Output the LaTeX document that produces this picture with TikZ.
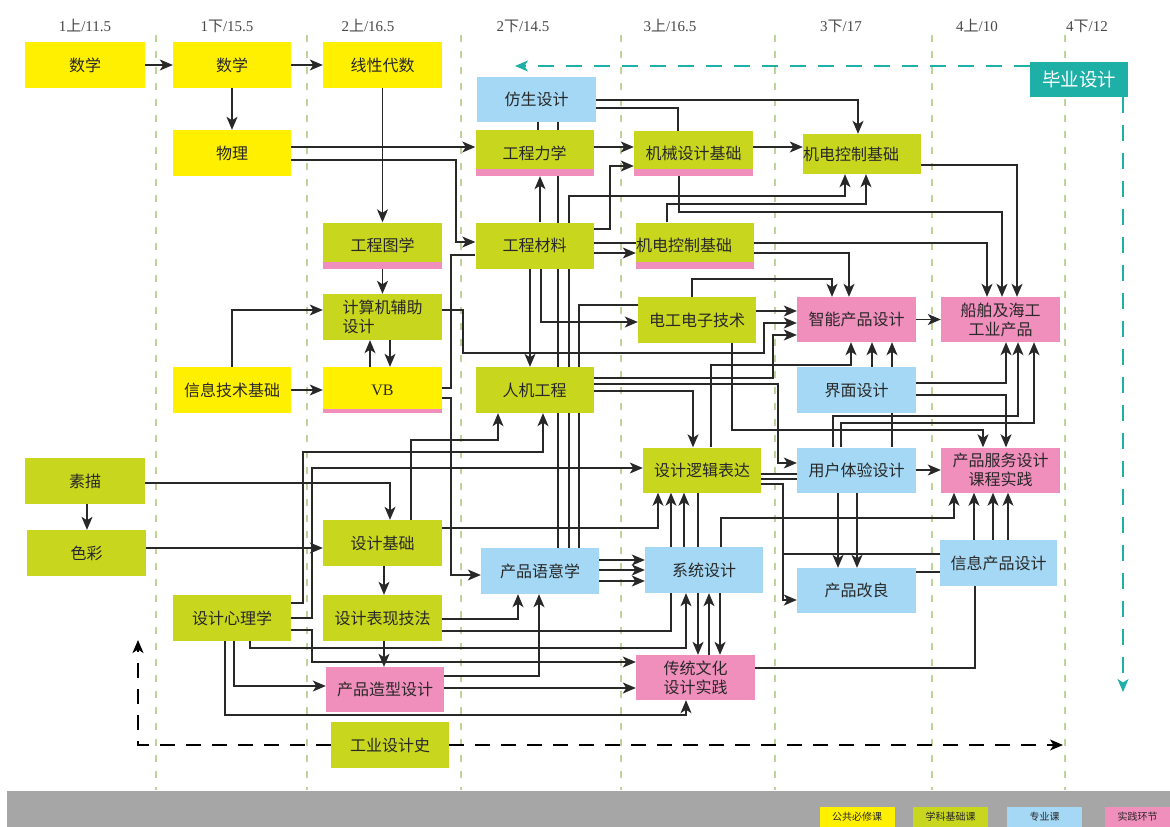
\documentclass[tikz,border=0pt]{standalone}
\usepackage{fontspec}
\setmainfont{Liberation Serif}
\newfontfamily\cjk{Noto Sans CJK SC}
\usetikzlibrary{arrows.meta,backgrounds}

\definecolor{gongbi}{RGB}{255,240,0}
\definecolor{xueke}{RGB}{200,214,30}
\definecolor{zhuanye}{RGB}{164,216,244}
\definecolor{shijian}{RGB}{240,142,188}
\definecolor{biye}{RGB}{30,176,166}
\definecolor{grid}{RGB}{190,212,150}
\definecolor{band}{RGB}{166,166,166}
\definecolor{ink}{RGB}{40,40,40}

\newcommand{\term}[3]{#1{\cjk #2}/#3}

\begin{document}
\begin{tikzpicture}[x=1pt, y=-1pt, >={Stealth[length=13pt,width=11pt,inset=3.5pt]},
  course/.style={fill=#1, text=ink, inner sep=0pt, minimum width=118pt,
    minimum height=46pt, align=center, font=\cjk\fontsize{16}{19}\selectfont},
  stripe/.style={path picture={\fill[shijian] (path picture bounding box.south west)
    rectangle ([yshift=#1]path picture bounding box.south east);}},
  stripe/.default=7pt,
  flush/.style={text width=118pt, align=left},
  link/.style={->, line width=1.3pt, draw=ink},
  tie/.style={line width=1.3pt, draw=ink},
  hop/.style={line width=1.4pt, dash pattern=on 15pt off 11pt},
  semester/.style={text=ink!85, font=\fontsize{15}{17}\selectfont},
  swatch/.style={fill=#1, text=ink, inner sep=0pt, minimum width=75pt,
    minimum height=20pt, font=\cjk\fontsize{10}{12}\selectfont}]

  \useasboundingbox (0,0) rectangle (1170,827);

  \foreach \x/\n/\c/\v [count=\i] in {85/1/上/11.5, 227/1/下/15.5, 368/2/上/16.5,
      523/2/下/14.5, 670/3/上/16.5, 841/3/下/17, 977/4/上/10, 1087/4/下/12}
    \node[semester] (hd\i) at (\x,26) {\term{\n}{\c}{\v}};

  \node[course=gongbi, minimum width=120pt] (sxA) at (85,65) {数学};
  \node[course=gongbi] (sxB) at (232,65) {数学};
  \node[course=gongbi, minimum width=119pt] (xxds) at (382.5,65) {线性代数};
  \node[course=zhuanye, minimum width=119pt, minimum height=45pt] (fssj) at (536.5,99.5) {仿生设计};
  \node[course=biye, text=white, minimum width=98pt, minimum height=35pt,
    font=\cjk\fontsize{18.5}{20}\selectfont] (bysj) at (1079,79.5) {毕业设计};

  \node[course=gongbi] (wl) at (232,153) {物理};
  \node[course=xueke, stripe] (gclx) at (534.5,153) {工程力学};
  \node[course=xueke, stripe, minimum width=119pt, minimum height=45pt] (jxsj) at (693.5,153.5) {机械设计基础};
  \node[course=xueke, flush, minimum height=40pt] (jdkzA) at (862,154) {机电控制基础};

  \node[course=xueke, stripe, minimum width=119pt] (gctx) at (382.5,245.5) {工程图学};
  \node[course=xueke] (gccl) at (534.5,245.5) {工程材料};
  \node[course=xueke, stripe, flush] (jdkzB) at (695,245.5) {机电控制基础};

  \node[course=xueke, minimum width=119pt, align=left] (jsj) at (382.5,317) {计算机辅助\\设计};
  \node[course=xueke] (dgdz) at (697,320) {电工电子技术};
  \node[course=shijian, minimum width=119pt, minimum height=45pt] (zncp) at (856.5,319.5) {智能产品设计};
  \node[course=shijian, minimum width=119pt, minimum height=45pt] (cbhg) at (1000.5,319.5) {船舶及海工\\工业产品};

  \node[course=gongbi] (xxjs) at (232,390) {信息技术基础};
  \node[course=gongbi, stripe=4pt, minimum width=119pt] (vb) at (382.5,390) {\rmfamily VB};
  \node[course=xueke] (rjgc) at (534.5,390) {人机工程};
  \node[course=zhuanye, minimum width=119pt] (jmsj) at (856.5,390) {界面设计};

  \node[course=xueke, minimum width=120pt] (sm) at (85,481) {素描};
  \node[course=xueke, minimum height=45pt] (sjlj) at (702,470) {设计逻辑表达};
  \node[course=zhuanye, minimum width=119pt, minimum height=45pt] (yhty) at (856.5,470) {用户体验设计};
  \node[course=shijian, minimum width=119pt, minimum height=45pt] (cpfw) at (1000.5,470) {产品服务设计\\课程实践};

  \node[course=xueke, minimum width=119pt] (sc) at (86.5,553) {色彩};
  \node[course=xueke, minimum width=119pt] (sjjc) at (382.5,543) {设计基础};
  \node[course=zhuanye] (cpyy) at (540,571) {产品语意学};
  \node[course=zhuanye] (xtsj) at (704,570) {系统设计};
  \node[course=zhuanye, minimum width=119pt, minimum height=45pt] (cpgl) at (856.5,590.5) {产品改良};
  \node[course=zhuanye, minimum width=117pt] (xxcp) at (998.5,563) {信息产品设计};

  \node[course=xueke] (sjxl) at (232,618) {设计心理学};
  \node[course=xueke, minimum width=119pt] (sjbx) at (382.5,618) {设计表现技法};
  \node[course=shijian, minimum height=45pt] (cpzx) at (385,689.5) {产品造型设计};
  \node[course=shijian, minimum width=119pt, minimum height=45pt] (ctwh) at (695.5,677.5) {传统文化\\设计实践};
  \node[course=xueke] (gysjs) at (390,745) {工业设计史};

  \coordinate (tA) at (515,66);
  \coordinate (tB) at (1123,692);
  \coordinate (hA) at (138,640);
  \coordinate (hB) at (1063,745);
  \coordinate (jA) at (783,554);

  \begin{scope}[on background layer]
    \fill[white] (0,0) rectangle (1170,827);
    \foreach \x in {156,307,461,621,775,932,1065}
      \draw[grid, line width=1.2pt, dash pattern=on 7pt off 9pt] (\x,35) -- (\x,790);

    \draw[biye, line width=1.5pt, dash pattern=on 16pt off 12pt, ->] (bysj.west |- 0,66) -- (tA);
    \draw[biye, line width=1.5pt, dash pattern=on 16pt off 12pt, ->] (bysj.south -| 1123,0) -- (tB);
    \draw[hop, ->] (gysjs.west) -| (hA);
    \draw[hop, ->] (gysjs.east) -- (hB);

    \draw[link] (sxA) -- (sxB);
    \draw[link] (sxB) -- (xxds);
    \draw[link] (sxB) -- (wl);
    \draw[link] (xxds) -- (gctx);
    \draw[link] (gctx) -- (jsj);
    \draw[link] (wl.east |- 0,147) -- (gclx.west |- 0,147);
    \draw[link] (wl.east |- 0,160) -| (456,242) -- (gccl.west |- 0,242);
    \draw[link] (xxjs.north) |- (jsj.west |- 0,310);
    \draw[link] (xxjs) -- (vb);
    \draw[link] (vb.north -| 370,0) -- (jsj.south -| 370,0);
    \draw[link] (jsj.south -| 390,0) -- (vb.north -| 390,0);
    \draw[link] (jsj.east |- 0,310) -| (463,353) -| (764,323) -- (zncp.west |- 0,323);
    \draw[tie] (vb.east |- 0,388) -| (451,255) -- (gccl.west |- 0,255);
    \draw[link] (vb.east |- 0,398) -| (451,575) -- (cpyy.west |- 0,575);

    \draw[link] (gclx.east |- 0,147) -- (jxsj.west |- 0,147);
    \draw[link] (jxsj.east |- 0,147) -- (jdkzA.west |- 0,147);
    \draw[link] (gccl.east |- 0,229) -| (610,166) -- (jxsj.west |- 0,166);
    \draw[link] (gccl.north -| 540,0) -- (gclx.south -| 540,0);
    \draw[tie] (fssj.south -| 538,0) -- (gclx.north -| 538,0);
    \draw[tie] (fssj.south -| 558,0) -- (cpyy.north -| 558,0);
    \draw[link] (cpyy.north -| 569,0) |- (845,196) -- (jdkzA.south -| 845,0);
    \draw[tie] (cpyy.north -| 579,0) |- (dgdz.west |- 0,305);
    \draw[link] (gccl.east |- 0,253) -- (jdkzB.west |- 0,253);
    \draw[link] (gccl.east |- 0,243) -| (cbhg.north -| 987,0);
    \draw[link] (jdkzB.north -| 667,0) |- (866,204) -- (jdkzA.south -| 866,0);
    \draw[link] (jxsj.south -| 679,0) |- (1002,212) -- (cbhg.north -| 1002,0);
    \draw[link] (jdkzA.east |- 0,165) -| (cbhg.north -| 1017,0);
    \draw[link] (jdkzB.east |- 0,253) -| (zncp.north -| 849,0);
    \draw[link] (fssj.east |- 0,100) -| (jdkzA.north -| 858,0);
    \draw[tie] (fssj.east |- 0,108) -| (jxsj.north -| 678,0);

    \draw[link] (dgdz.east |- 0,311) -- (zncp.west |- 0,311);
    \draw[link] (gccl.south -| 541,0) |- (dgdz.west |- 0,322);
    \draw[link] (gccl.south -| 530,0) -- (rjgc.north -| 530,0);
    \draw[link] (dgdz.north -| 692,0) |- (832,279) -- (zncp.north -| 832,0);
    \draw[link] (dgdz.south -| 732,0) |- (983,430) -- (cpfw.north -| 983,0);
    \draw[link] (zncp) -- (cbhg);
    \draw[link] (rjgc.east |- 0,378) -| (773,335) -- (zncp.west |- 0,335);
    \draw[link] (rjgc.east |- 0,384) -| (778,463) -- (yhty.west |- 0,463);
    \draw[link] (rjgc.east |- 0,391) -| (sjlj.north -| 693,0);
    \draw[link] (sjlj.north -| 711,0) |- (851,365) -- (zncp.south -| 851,0);
    \draw[link] (jmsj.north -| 872,0) -- (zncp.south -| 872,0);
    \draw[link] (jmsj.north -| 892,0) -- (zncp.south -| 892,0);
    \draw[tie] (jmsj.south -| 892,0) -- (yhty.north -| 892,0);
    \draw[link] (jmsj.east |- 0,383) -| (cbhg.south -| 1006,0);
    \draw[link] (jmsj.east |- 0,395) -| (cpfw.north -| 1006,0);
    \draw[link] (yhty.north -| 833,0) |- (1018,416) -- (cbhg.south -| 1018,0);
    \draw[link] (yhty.north -| 841,0) |- (1034,423) -- (cbhg.south -| 1034,0);

    \draw[link] (yhty) -- (cpfw);
    \draw[tie] (sjlj.east |- 0,474) -- (yhty.west |- 0,474);
    \draw[tie] (sjlj.east |- 0,479) -- (yhty.west |- 0,479);
    \draw[link] (sjlj.east |- 0,484) -| (783,600) -- (cpgl.west |- 0,600);
    \draw[link] (yhty.south -| 838,0) -- (cpgl.north -| 838,0);
    \draw[link] (yhty.south -| 857,0) -- (cpgl.north -| 857,0);
    \draw[tie] (xxcp.west |- 0,554) -- (jA);
    \draw[link] (xtsj.north -| 721,0) |- (954,518) -- (cpfw.south -| 954,0);
    \foreach \x in {974,993,1008}
      \draw[link] (xxcp.north -| \x,0) -- (cpfw.south -| \x,0);
    \draw[tie] (cpgl.east |- 0,572) -- (xxcp.west |- 0,572);
    \draw[tie] (xxcp.south -| 975,0) |- (ctwh.east |- 0,668);

    \draw[link] (sjjc.east |- 0,528) -| (sjlj.south -| 658,0);
    \draw[link] (xtsj.north -| 671,0) -- (sjlj.south -| 671,0);
    \draw[link] (xtsj.north -| 684,0) -- (sjlj.south -| 684,0);
    \draw[tie] (xtsj.north -| 698,0) -- (sjlj.south -| 698,0);
    \draw[link] (sjjc.north -| 411,0) |- (498,440) -- (rjgc.south -| 498,0);
    \draw[link] (sm.east |- 0,483) -| (sjjc.north -| 390,0);
    \draw[link] (sc.east |- 0,548) -- (sjjc.west |- 0,548);
    \draw[link] (sm.south -| 87,0) -- (sc.north -| 87,0);
    \draw[link] (sjjc.south -| 384,0) -- (sjbx.north -| 384,0);
    \foreach \y in {560,570,581}
      \draw[link] (cpyy.east |- 0,\y) -- (xtsj.west |- 0,\y);

    \draw[link] (sjxl.east |- 0,603) -| (303,452) -| (rjgc.south -| 543,0);
    \draw[link] (sjxl.east |- 0,618) -| (312,468) -- (sjlj.west |- 0,468);
    \draw[link] (sjxl.east |- 0,630) -| (312,662) -- (ctwh.west |- 0,662);
    \draw[link] (sjxl.south -| 250,0) |- (686,648) -- (xtsj.south -| 686,0);
    \draw[link] (sjxl.south -| 234,0) |- (cpzx.west |- 0,686);
    \draw[link] (sjxl.south -| 225,0) |- (686,715) -- (ctwh.south -| 686,0);
    \draw[link] (sjbx.east |- 0,619) -| (cpyy.south -| 518,0);
    \draw[tie] (sjbx.east |- 0,631) -| (xtsj.south -| 671,0);
    \draw[link] (sjbx.south -| 384,0) -- (cpzx.north -| 384,0);
    \draw[link] (cpzx.east |- 0,676) -| (cpyy.south -| 539,0);
    \draw[link] (cpzx.east |- 0,688) -- (ctwh.west |- 0,688);
    \draw[link] (xtsj.south -| 698,0) -- (ctwh.north -| 698,0);
    \draw[link] (xtsj.south -| 720,0) -- (ctwh.north -| 720,0);
    \draw[link] (ctwh.north -| 709,0) -- (xtsj.south -| 709,0);
  \end{scope}

  \fill[band] (7,791) rectangle (1170,827);
  \node[swatch=gongbi] (lgA) at (857,817) {公共必修课};
  \node[swatch=xueke] (lgB) at (950.5,817) {学科基础课};
  \node[swatch=zhuanye] (lgC) at (1044.5,817) {专业课};
  \node[swatch=shijian, minimum width=65pt] (lgD) at (1137.5,817) {实践环节};
\end{tikzpicture}
\end{document}
